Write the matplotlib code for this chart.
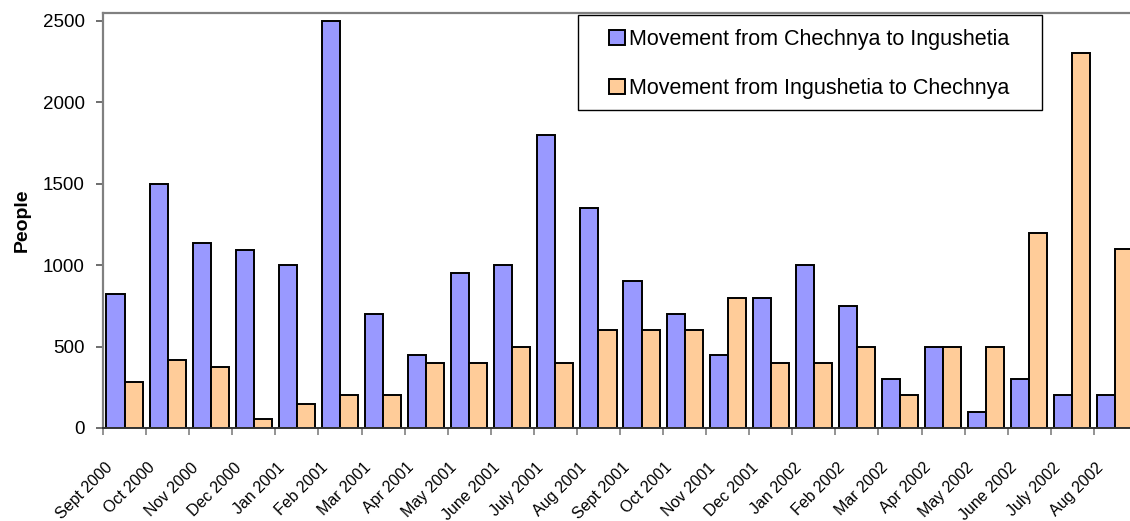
import matplotlib
matplotlib.use("Agg")
import matplotlib.pyplot as plt
import matplotlib.transforms as mtransforms
from matplotlib.patches import Rectangle
import numpy as np

months = ["Sept 2000", "Oct 2000", "Nov 2000", "Dec 2000", "Jan 2001", "Feb 2001",
          "Mar 2001", "Apr 2001", "May 2001", "June 2001", "July 2001", "Aug 2001",
          "Sept 2001", "Oct 2001", "Nov 2001", "Dec 2001", "Jan 2002", "Feb 2002",
          "Mar 2002", "Apr 2002", "May 2002", "June 2002", "July 2002", "Aug 2002"]
chechnya_to_ingushetia = [820, 1500, 1135, 1090, 1000, 2500, 700, 450, 950, 1000, 1800, 1350,
                          900, 700, 450, 800, 1000, 750, 300, 500, 100, 300, 200, 200]
ingushetia_to_chechnya = [280, 415, 375, 55, 150, 200, 200, 400, 400, 500, 400, 600,
                          600, 600, 800, 400, 400, 500, 200, 500, 500, 1200, 2300, 1100]
series_names = ["Movement from Chechnya to Ingushetia", "Movement from Ingushetia to Chechnya"]
yticks = [0, 500, 1000, 1500, 2000, 2500]

plt.rcParams['font.family'] = ['Liberation Sans', 'DejaVu Sans']

W, H = 1130, 521
fig = plt.figure(figsize=(W/100, H/100), dpi=100)
ax = fig.add_axes([103/W, (H-428)/H, (1137-103)/W, (428-12.7)/H])

n = len(months)
x = np.arange(n)
w = 0.42
ax.bar(x - w/2, chechnya_to_ingushetia, w, color='#9999FF', edgecolor='black', linewidth=1.4,
       label=series_names[0])
ax.bar(x + w/2, ingushetia_to_chechnya, w, color='#FFCC99', edgecolor='black', linewidth=1.4,
       label=series_names[1])

ax.set_xlim(-0.5, n - 0.5)
ax.set_ylim(0, 2550)
ax.set_yticks(yticks)
ax.set_yticklabels([str(v) for v in yticks], fontsize=13.5)
ax.tick_params(axis='y', direction='out', length=5, width=1.2, color='#555555', pad=8)

ax.set_xticks(np.arange(n + 1) - 0.5)
ax.set_xticklabels([])
ax.tick_params(axis='x', which='major', direction='out', length=5, width=1.2, color='#808080')
ax.set_xticks(x, minor=True)
ax.set_xticklabels(months, minor=True, rotation=45, ha='right', va='top',
                   rotation_mode='anchor', fontsize=11.5)
ax.tick_params(axis='x', which='minor', length=0, pad=23)
offset = mtransforms.ScaledTranslation(-20/100, 0, fig.dpi_scale_trans)
for lab in ax.get_xticklabels(minor=True):
    lab.set_transform(lab.get_transform() + offset)

for s in ['left', 'top', 'right']:
    ax.spines[s].set_color('#808080')
    ax.spines[s].set_linewidth(1.6)
ax.spines['bottom'].set_color('#333333')
ax.spines['bottom'].set_linewidth(1.4)

ax.set_ylabel("People", fontsize=14, fontweight='bold', labelpad=9)

# legend frame drawn separately, legend content without frame
frame = Rectangle((578/W, 1 - 110/H), (1042-578)/W, (110-15)/H,
                  transform=fig.transFigure, facecolor='white',
                  edgecolor='black', linewidth=1.0, zorder=5, clip_on=False)
ax.add_patch(frame)
leg = ax.legend(loc='upper left', bbox_to_anchor=(609/W, 1 - 29/H),
                bbox_transform=fig.transFigure, fontsize=15.5, frameon=False,
                handlelength=0.75, handleheight=0.75, handletextpad=0.2,
                labelspacing=1.3, borderpad=0, borderaxespad=0)
leg.set_zorder(6)

fig.savefig("out.png", dpi=100)
